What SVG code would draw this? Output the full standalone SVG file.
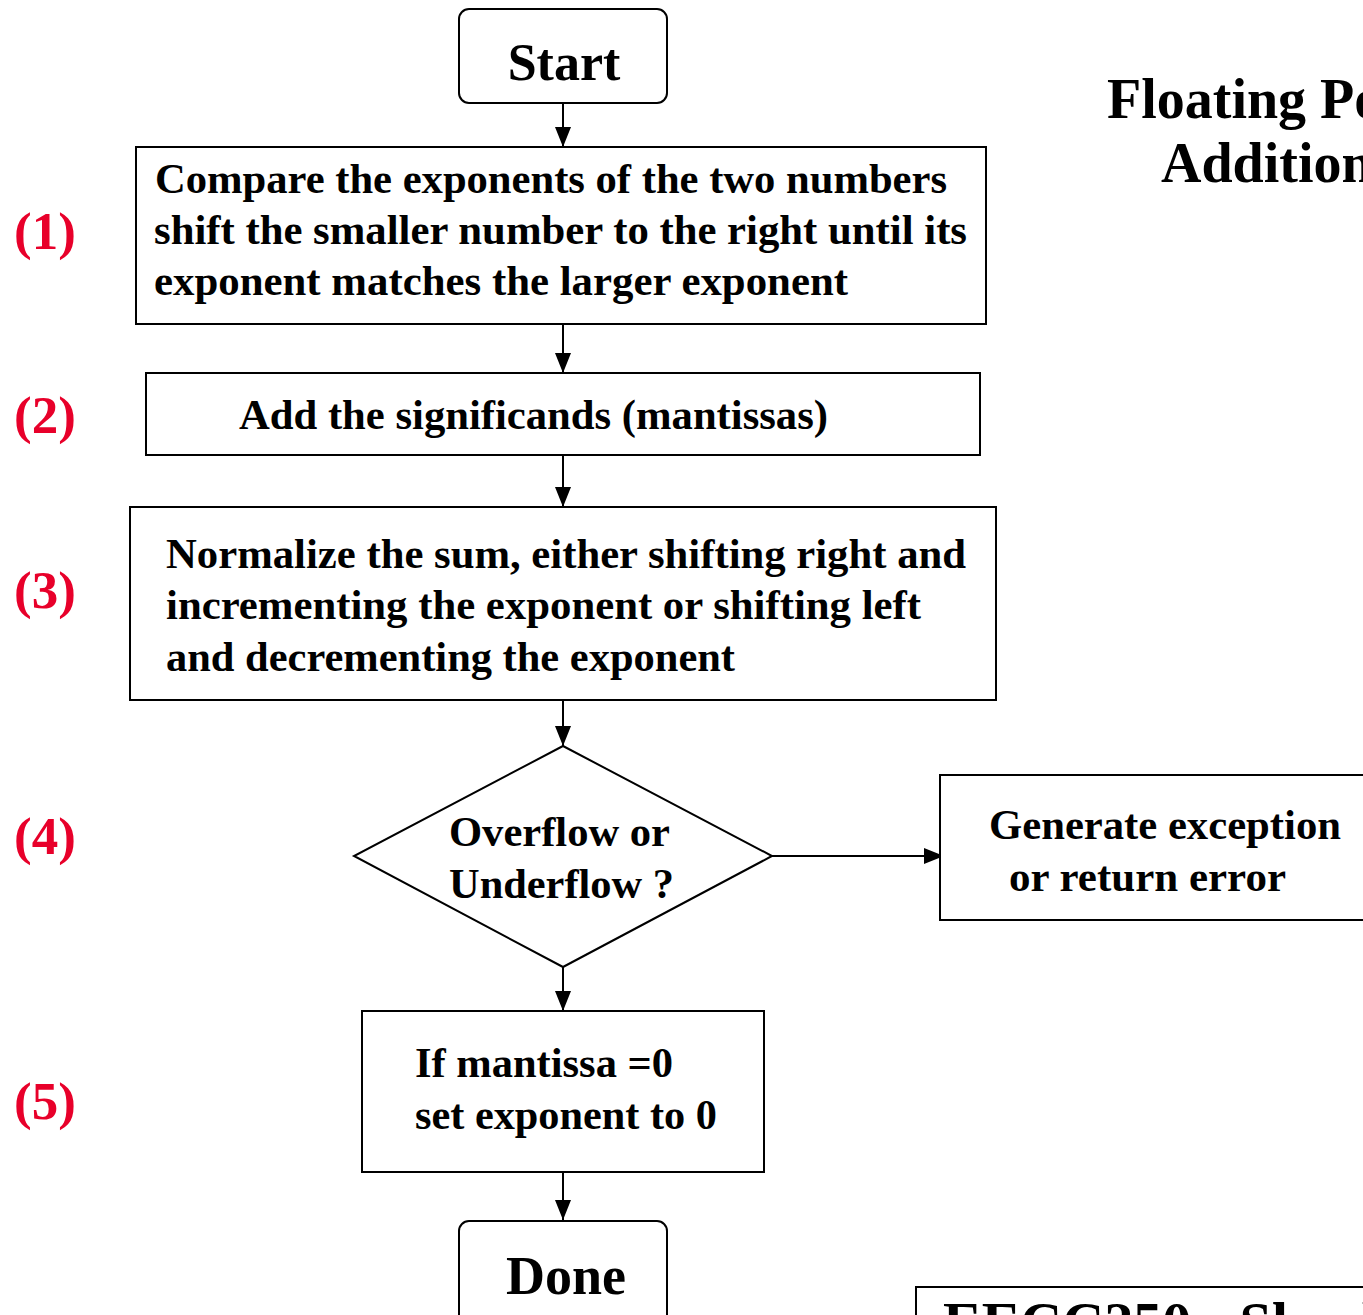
<svg xmlns="http://www.w3.org/2000/svg" width="1363" height="1315" viewBox="0 0 1363 1315">
<defs>
<style>
.box{fill:#fff;stroke:#000;stroke-width:2}
.t{font-family:"Liberation Serif","Times New Roman",serif;font-weight:bold;fill:#000}
.b{font-size:42px}
.lbl{font-family:"Liberation Serif","Times New Roman",serif;font-weight:bold;fill:#e8002a;font-size:53px}
.c{stroke:#000;stroke-width:2;fill:none;marker-end:url(#ah)}
</style>
<marker id="ah" viewBox="0 0 20 16" refX="20" refY="8" markerWidth="20" markerHeight="16" markerUnits="userSpaceOnUse" orient="auto">
<path d="M0,0 L20,8 L0,16 Z" fill="#000"/>
</marker>
</defs>
<rect width="1363" height="1315" fill="#fff"/>

<g id="title">
<text class="t" x="1107" y="118" font-size="56">Floating Point</text>
<text class="t" x="1161" y="182" font-size="56">Addition</text>
</g>

<g id="labels">
<text class="lbl" x="14" y="249">(1)</text>
<text class="lbl" x="14" y="433">(2)</text>
<text class="lbl" x="14" y="608">(3)</text>
<text class="lbl" x="14" y="854">(4)</text>
<text class="lbl" x="14" y="1119">(5)</text>
</g>

<g id="connectors">
<line class="c" x1="563" y1="103" x2="563" y2="147"/>
<line class="c" x1="563" y1="325" x2="563" y2="373"/>
<line class="c" x1="563" y1="455" x2="563" y2="507"/>
<line class="c" x1="563" y1="700" x2="563" y2="746"/>
<line class="c" x1="772" y1="856" x2="944" y2="856"/>
<line class="c" x1="563" y1="967" x2="563" y2="1011"/>
<line class="c" x1="563" y1="1172" x2="563" y2="1220"/>
</g>

<g id="start">
<rect class="box" x="459" y="9" width="208" height="94" rx="10"/>
<text class="t" x="564" y="80" font-size="52" text-anchor="middle">Start</text>
</g>

<g id="step1">
<rect class="box" x="136" y="147" width="850" height="177"/>
<text class="t b" x="155" y="193" textLength="792" lengthAdjust="spacingAndGlyphs">Compare the exponents of the two numbers</text>
<text class="t b" x="154" y="244" textLength="813" lengthAdjust="spacingAndGlyphs">shift the smaller number to the right until its</text>
<text class="t b" x="154" y="295" textLength="694" lengthAdjust="spacingAndGlyphs">exponent matches the larger exponent</text>
</g>

<g id="step2">
<rect class="box" x="146" y="373" width="834" height="82"/>
<text class="t b" x="239" y="429" textLength="589" lengthAdjust="spacingAndGlyphs">Add the significands (mantissas)</text>
</g>

<g id="step3">
<rect class="box" x="130" y="507" width="866" height="193"/>
<text class="t b" x="166" y="568" textLength="800" lengthAdjust="spacingAndGlyphs">Normalize the sum, either shifting right and</text>
<text class="t b" x="166" y="619" textLength="755" lengthAdjust="spacingAndGlyphs">incrementing the exponent or shifting left</text>
<text class="t b" x="166" y="671" textLength="569" lengthAdjust="spacingAndGlyphs">and decrementing the exponent</text>
</g>

<g id="decision">
<polygon class="box" points="563,746 772,856 563,967 354,856"/>
<text class="t b" x="449" y="846" textLength="221" lengthAdjust="spacingAndGlyphs">Overflow or</text>
<text class="t b" x="449" y="898" textLength="225" lengthAdjust="spacingAndGlyphs">Underflow ?</text>
</g>

<g id="exception">
<rect class="box" x="940" y="775" width="440" height="145"/>
<text class="t b" x="989" y="839" textLength="352" lengthAdjust="spacingAndGlyphs">Generate exception</text>
<text class="t b" x="1009" y="891" textLength="277" lengthAdjust="spacingAndGlyphs">or return error</text>
</g>

<g id="step5">
<rect class="box" x="362" y="1011" width="402" height="161"/>
<text class="t b" x="415" y="1077" textLength="258" lengthAdjust="spacingAndGlyphs">If mantissa =0</text>
<text class="t b" x="415" y="1129" textLength="302" lengthAdjust="spacingAndGlyphs">set exponent to 0</text>
</g>

<g id="done">
<rect class="box" x="459" y="1221" width="208" height="120" rx="10"/>
<text class="t" x="566" y="1294" font-size="54" text-anchor="middle">Done</text>
</g>

<g id="footer">
<rect class="box" x="916" y="1287" width="480" height="80"/>
<text class="t" x="943" y="1342" font-size="58">EECC250 - Shaaban</text>
</g>
</svg>
